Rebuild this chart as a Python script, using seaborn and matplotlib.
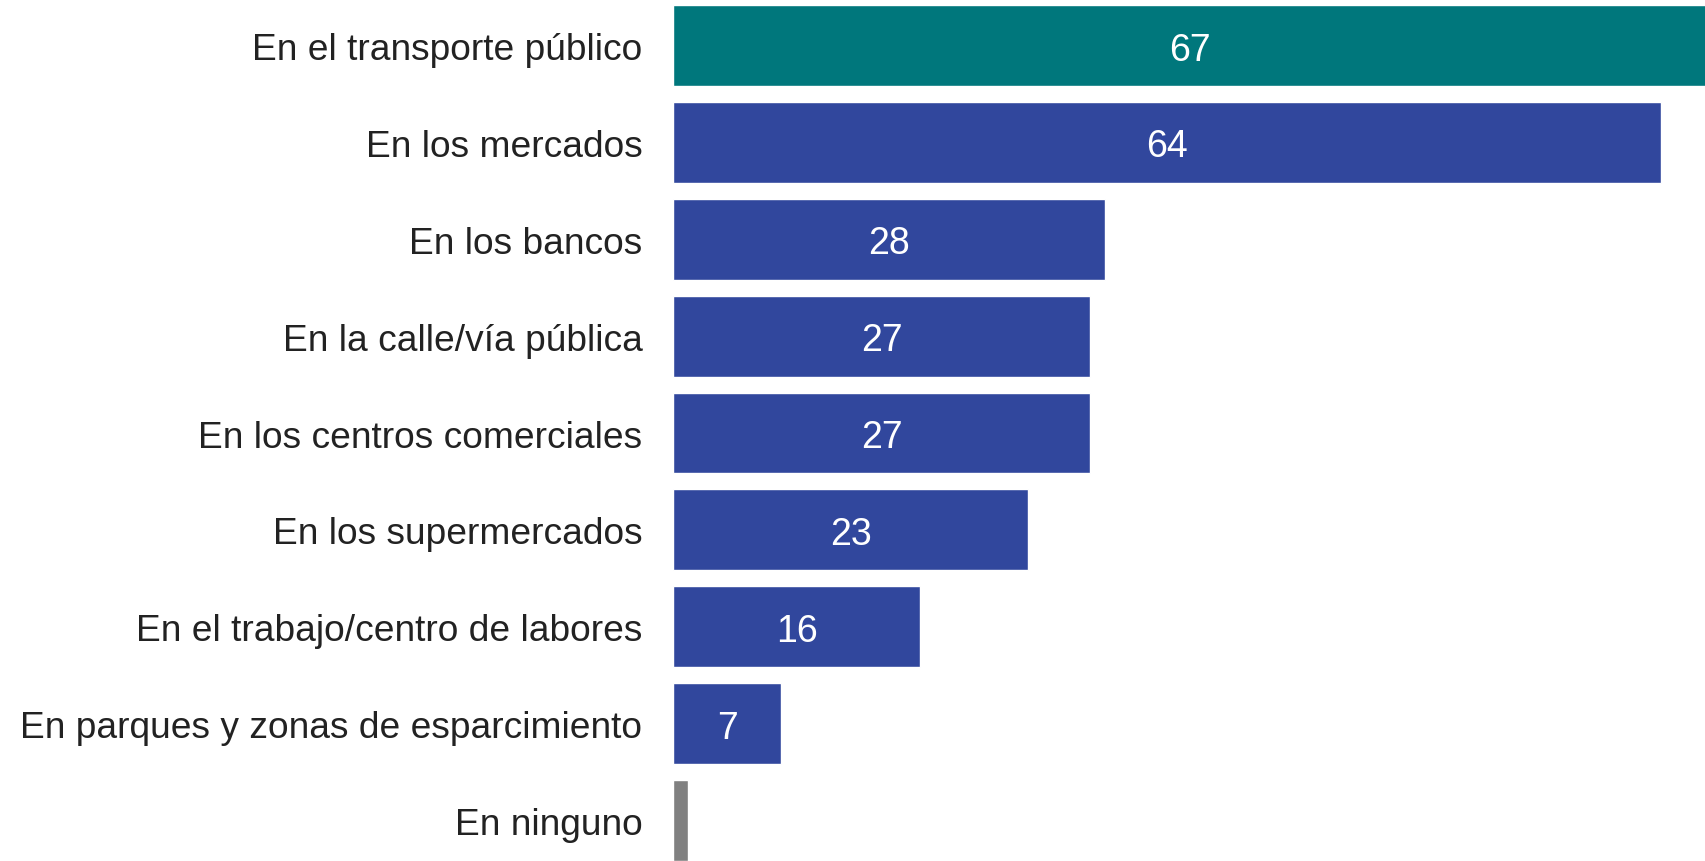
import matplotlib
matplotlib.use("Agg")
import matplotlib.pyplot as plt
import seaborn as sns
import pandas as pd

# datos del gráfico
lugares = [
    "En el transporte público",
    "En los mercados",
    "En los bancos",
    "En la calle/vía pública",
    "En los centros comerciales",
    "En los supermercados",
    "En el trabajo/centro de labores",
    "En parques y zonas de esparcimiento",
    "En ninguno",
]
porcentajes = [67, 64, 28, 27, 27, 23, 16, 7, 1]
colores = ["#00777C"] + ["#31479D"] * 7 + ["#808080"]

df = pd.DataFrame({"lugar": lugares, "pct": porcentajes})

sns.set_style("white")
plt.rcParams["font.family"] = ["Liberation Sans", "DejaVu Sans"]

fig = plt.figure(figsize=(17.06, 8.62), dpi=100)
ax = fig.add_axes([673 / 1706, 0, 1 - 673 / 1706, 1])

sns.barplot(data=df, x="pct", y="lugar", hue="lugar", palette=colores,
            legend=False, width=0.835, saturation=1, ax=ax)

# etiquetas de valor (no para "En ninguno")
for i, v in enumerate(porcentajes[:-1]):
    ax.text(v / 2, i, str(v), ha="center", va="center_baseline",
            color="white", fontsize=27)

ax.set_xlim(0, 66.9)
ax.set_ylim(8.4175, -0.48)
ax.set_xlabel("")
ax.set_ylabel("")
ax.set_xticks([])
ax.tick_params(axis="y", length=0, pad=22, labelsize=26.75, labelcolor="#222222")
for s in ax.spines.values():
    s.set_visible(False)

fig.savefig("out.png", dpi=100)
